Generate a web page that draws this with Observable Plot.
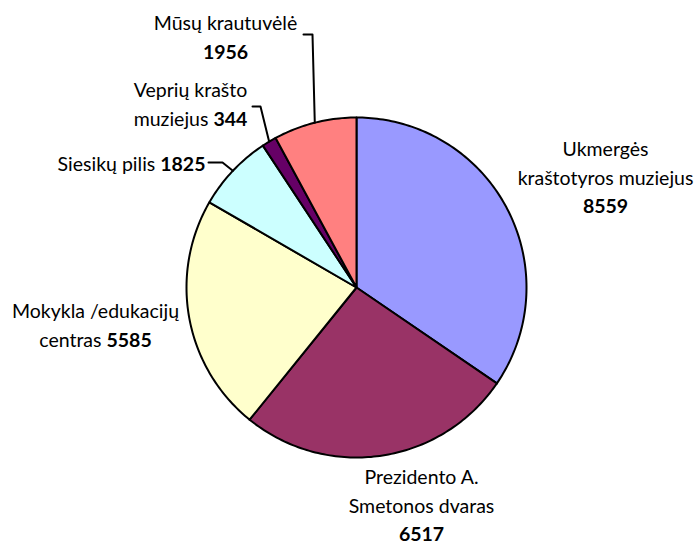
<!DOCTYPE html>
<html><head><meta charset="utf-8">
<script src="https://cdn.jsdelivr.net/npm/d3@7"></script>
<script src="https://cdn.jsdelivr.net/npm/@observablehq/plot@0.6"></script>
<style>body{margin:0;background:#fff}</style>
</head><body><div id="chart"></div>
<script>
// ---- data ----
const categories = ["Ukmergės kraštotyros muziejus", "Prezidento A. Smetonos dvaras", "Mokykla /edukacijų centras", "Siesikų pilis", "Veprių krašto muziejus", "Mūsų krautuvėlė"];
const values = [8559, 6517, 5585, 1825, 344, 1956];
const colors = ["#9999FF", "#993366", "#FFFFCC", "#CCFFFF", "#660066", "#FF8080"];
const labelTexts = [
  "Ukmergės\nkraštotyros muziejus\n8559",
  "Prezidento A.\nSmetonos dvaras\n6517",
  "Mokykla /edukacijų\ncentras 5585",
  "Siesikų pilis 1825",
  "Veprių krašto\nmuziejus 344",
  "Mūsų krautuvėlė\n1956"
];

// ---- layout (pixels) ----
const W = 696, H = 544;
const pie = {cx: 356, cy: 287, r: 170};
const labelLayout = [
  {x: 605, y: 175, anchor: "middle"},
  {x: 421, y: 503, anchor: "middle"},
  {x: 95, y: 323, anchor: "middle"},
  {x: 205, y: 161, anchor: "end"},
  {x: 190, y: 102, anchor: "middle"},
  {x: 225, y: 35, anchor: "middle"}
];
// leader: start point and elbow (ends on arc at slice mid-angle)
const leaderLayout = [null, null, null,
  {sx: 208, sy: 162, ex: 222, ey: 162},
  {sx: 252, sy: 106, ex: 260, ey: 106},
  {sx: 303, sy: 34, ex: 312, ey: 34}
];

const arcs = d3.pie().sort(null).value(d => d)(values);
const polar = (a, rr) => ({x: pie.cx + rr * Math.sin(a), y: pie.cy - rr * Math.cos(a)});

const slicePts = [];
arcs.forEach((a, i) => {
  const name = categories[i];
  slicePts.push({name, ...polar(0, 0)});
  const n = Math.max(2, Math.ceil((a.endAngle - a.startAngle) / (Math.PI / 180)));
  for (let k = 0; k <= n; k++) {
    const t = a.startAngle + (a.endAngle - a.startAngle) * k / n;
    slicePts.push({name, ...polar(t, pie.r)});
  }
});

const leaderPts = [];
arcs.forEach((a, i) => {
  const L = leaderLayout[i];
  if (!L) return;
  const name = categories[i];
  const mid = (a.startAngle + a.endAngle) / 2;
  leaderPts.push({name, x: L.sx, y: L.sy});
  leaderPts.push({name, x: L.ex, y: L.ey});
  leaderPts.push({name, ...polar(mid, pie.r)});
});

const labels = categories.map((c, i) => ({name: c, text: labelTexts[i], ...labelLayout[i]}));

const plot = Plot.plot({
  width: W, height: H,
  margin: 0,
  x: {domain: [0, W], range: [0, W], axis: null},
  y: {domain: [0, H], range: [0, H], axis: null},
  color: {type: "ordinal", domain: categories, range: colors},
  style: {fontFamily: "Lato, sans-serif", background: "#fff"},
  marks: [
    Plot.line(slicePts, {x: "x", y: "y", z: "name", fill: "name", stroke: "black", strokeWidth: 2, strokeLinejoin: "round", curve: "linear-closed"}),
    Plot.line(leaderPts, {x: "x", y: "y", z: "name", stroke: "black", strokeWidth: 2}),
    ...["middle", "end"].map(anc => Plot.text(labels.filter(d => d.anchor === anc), {
      x: "x", y: "y", text: "text", textAnchor: anc, lineAnchor: "middle",
      lineHeight: 1.46, fontSize: 19.5, fill: "black"
    }))
  ]
});

// bold the numbers
d3.select(plot).selectAll("text").each(function () {
  const el = this;
  const tspans = el.querySelectorAll("tspan");
  const targets = tspans.length ? Array.from(tspans) : [el];
  targets.forEach(t => {
    const s = t.textContent;
    const m = s.match(/^(.*?)(\d+)$/);
    if (!m) return;
    t.textContent = m[1];
    const b = document.createElementNS("http://www.w3.org/2000/svg", "tspan");
    b.setAttribute("font-weight", "bold");
    b.textContent = m[2];
    t.appendChild(b);
  });
});

document.getElementById("chart").appendChild(plot);
</script>
</body></html>
